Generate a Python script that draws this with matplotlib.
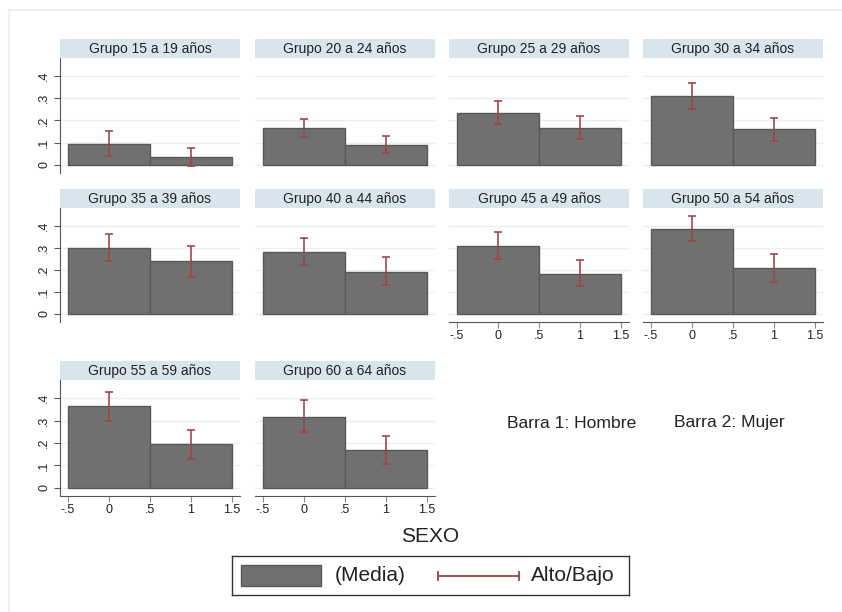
import matplotlib
matplotlib.use("Agg")
import matplotlib.pyplot as plt
from matplotlib.patches import Rectangle

plt.rcParams['font.family'] = ['Liberation Sans', 'DejaVu Sans']

grupos = ["Grupo 15 a 19 años", "Grupo 20 a 24 años", "Grupo 25 a 29 años",
          "Grupo 30 a 34 años", "Grupo 35 a 39 años", "Grupo 40 a 44 años",
          "Grupo 45 a 49 años", "Grupo 50 a 54 años", "Grupo 55 a 59 años",
          "Grupo 60 a 64 años"]
media_hombre = [0.094, 0.165, 0.234, 0.309, 0.301, 0.283, 0.308, 0.386, 0.363, 0.318]
media_mujer = [0.033, 0.090, 0.166, 0.159, 0.238, 0.191, 0.182, 0.209, 0.195, 0.168]
alto_hombre = [0.151, 0.208, 0.286, 0.370, 0.362, 0.346, 0.371, 0.445, 0.427, 0.390]
bajo_hombre = [0.040, 0.123, 0.183, 0.252, 0.241, 0.221, 0.250, 0.329, 0.300, 0.249]
alto_mujer = [0.075, 0.130, 0.219, 0.211, 0.310, 0.257, 0.244, 0.274, 0.259, 0.232]
bajo_mujer = [-0.004, 0.051, 0.117, 0.108, 0.167, 0.129, 0.125, 0.147, 0.130, 0.108]
sexo_pos = [0, 1]
yticks = [0, 0.1, 0.2, 0.3, 0.4]
ytick_labels = ["0", ".1", ".2", ".3", ".4"]
xticks = [-0.5, 0, 0.5, 1, 1.5]
xtick_labels = ["-.5", "0", ".5", "1", "1.5"]

W, H = 842, 612
fig = plt.figure(figsize=(W / 100, H / 100), dpi=100)
fig.patch.set_facecolor('white')

# faint outer frame
fig.patches.append(Rectangle((9 / W, -0.1), 1.2, 1 - 10 / H + 0.1, transform=fig.transFigure,
                             fill=False, edgecolor='#edf1f1', lw=1.5))

def px_axes(x0, x1, y0, y1):
    return fig.add_axes([x0 / W, 1 - y1 / H, (x1 - x0) / W, (y1 - y0) / H])

cols = [(60, 240), (255, 435), (449, 629), (643, 823)]
rows = [(58, 173), (208, 322), (380, 496)]
strip_h = 19

bar_color = '#707070'
bar_edge = '#585858'
err_color = '#a0424c'
axis_color = '#555555'
grid_color = '#e6eff1'
text_color = '#222222'

positions = [(0, 0), (0, 1), (0, 2), (0, 3), (1, 0), (1, 1), (1, 2), (1, 3), (2, 0), (2, 1)]
xaxis_panels = {6, 7, 8, 9}

for i, (r, c) in enumerate(positions):
    x0, x1 = cols[c]
    y0, y1 = rows[r]
    ax = px_axes(x0, x1, y0, y1)
    ax.set_xlim(-0.598, 1.598)
    ax.set_ylim(-0.037, 0.481)
    for y in yticks:
        ax.axhline(y, color=grid_color, lw=1.0, zorder=0)
    vals = [media_hombre[i], media_mujer[i]]
    ax.bar(sexo_pos, vals, width=1.0, color=bar_color, edgecolor=bar_edge, lw=1.0, zorder=2)
    lo = [bajo_hombre[i], bajo_mujer[i]]
    hi = [alto_hombre[i], alto_mujer[i]]
    ax.errorbar(sexo_pos, vals, yerr=[[v - l for v, l in zip(vals, lo)], [h - v for v, h in zip(vals, hi)]],
                fmt='none', ecolor=err_color, elinewidth=1.3, capsize=2.8, capthick=1.3, zorder=3, alpha=0.9)
    for s in ['top', 'right']:
        ax.spines[s].set_visible(False)
    ax.spines['left'].set_visible(c == 0)
    ax.spines['bottom'].set_visible(i in xaxis_panels)
    ax.spines['left'].set_color(axis_color)
    ax.spines['bottom'].set_color(axis_color)
    if c == 0:
        ax.set_yticks(yticks)
        ax.set_yticklabels(ytick_labels, rotation=90, va='center', fontsize=9, color=text_color)
        ax.tick_params(axis='y', length=4, color=axis_color, pad=3)
    else:
        ax.set_yticks([])
    if i in xaxis_panels:
        ax.set_xticks(xticks)
        ax.set_xticklabels(xtick_labels, fontsize=9, color=text_color)
        ax.tick_params(axis='x', length=4, color='#888888', pad=2)
    else:
        ax.set_xticks([])
    # strip title
    ax.add_patch(Rectangle((0, 1.0), 1, strip_h / (y1 - y0), transform=ax.transAxes,
                           clip_on=False, facecolor='#d9e5ec', edgecolor='none'))
    ax.text(0.5, 1.0 + strip_h / (y1 - y0) / 2, grupos[i], transform=ax.transAxes,
            ha='center', va='center', fontsize=10, color=text_color)

fig.text(507 / W, 1 - 423 / H, "Barra 1: Hombre", fontsize=12.6, color=text_color, va='center', ha='left')
fig.text(674 / W, 1 - 423 / H, "Barra 2: Mujer", fontsize=12.6, color=text_color, va='center', ha='left')
fig.text(430 / W, 1 - 537 / H, "SEXO", fontsize=15, color=text_color, va='center', ha='center')

# legend
lax = px_axes(232, 629, 556, 595)
lax.set_xlim(232, 629)
lax.set_ylim(595, 556)
lax.set_xticks([]); lax.set_yticks([])
for s in lax.spines.values():
    s.set_color('#333333'); s.set_linewidth(1.0)
lax.add_patch(Rectangle((241, 565), 80, 21, facecolor=bar_color, edgecolor=bar_edge, lw=1.0))
lax.text(335, 575.5, "(Media)", fontsize=15, color=text_color, va='center', ha='left')
lax.plot([438, 519], [575.5, 575.5], color=err_color, lw=1.3)
lax.plot([438, 438], [571.5, 579.5], color=err_color, lw=1.3)
lax.plot([519, 519], [571.5, 579.5], color=err_color, lw=1.3)
lax.text(531, 575.5, "Alto/Bajo", fontsize=15, color=text_color, va='center', ha='left')

fig.savefig("out.png", dpi=100, facecolor='white')
